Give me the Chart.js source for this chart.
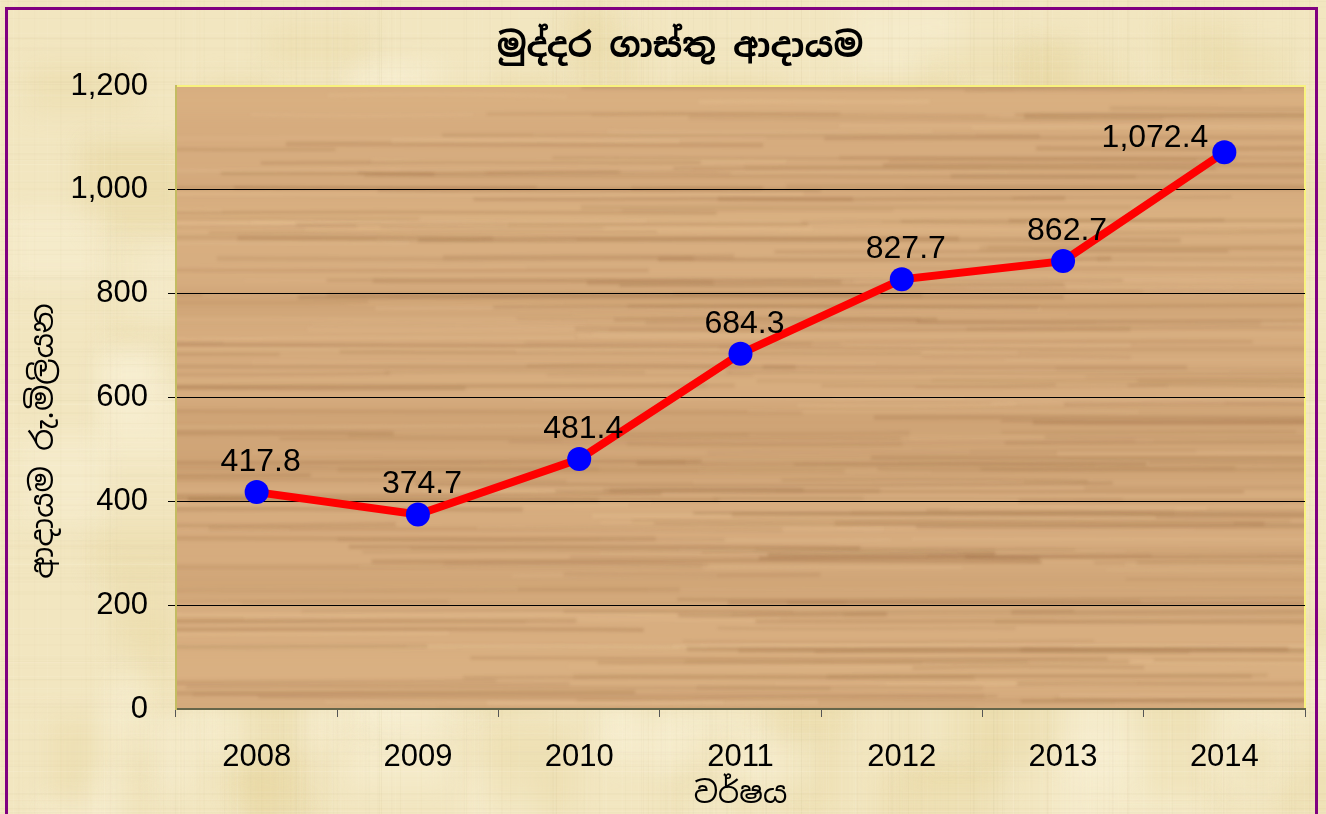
<!DOCTYPE html>
<html>
<head>
<meta charset="utf-8">
<script src="https://cdn.jsdelivr.net/npm/chart.js@4.4.1/dist/chart.umd.min.js"></script>
<style>
  html, body { margin: 0; padding: 0; background: #ffffff; }
  #wrap { position: relative; width: 1326px; height: 814px; }
</style>
</head>
<body>
<div id="wrap"><canvas id="chart" width="1326" height="814"></canvas></div>
<script>
const years = ['2008', '2009', '2010', '2011', '2012', '2013', '2014'];
const revenue = [417.8, 374.7, 481.4, 684.3, 827.7, 862.7, 1072.4];
const yTicks = [0, 200, 400, 600, 800, 1000, 1200];

const chartTitle = 'මුද්දර ගාස්තු ආදායම';
const yTitle = 'ආදායම රු.මිලියන';
const xTitle = 'වර්ෂය';

const numFont = '"Liberation Sans", Arial, sans-serif';
const sinFont = '"Noto Sans Sinhala", "Iskoola Pota", "Noto Sans", sans-serif';

// seeded random, only used for the background textures
function seeded(s) {
  return () => {
    s = (s * 16807) % 2147483647;
    return (s - 1) / 2147483646;
  };
}

function makeWood(w, h) {
  const c = document.createElement('canvas');
  c.width = w; c.height = h;
  const g = c.getContext('2d');
  const rnd = seeded(7);
  g.fillStyle = '#d6ac7e';
  g.fillRect(0, 0, w, h);
  // broad tone bands
  for (let y = 0; y < h; y++) {
    const band = Math.sin(y * 0.045 + 0.4) * 0.6 + Math.sin(y * 0.013 + 2.1) * 0.5 + Math.sin(y * 0.11) * 0.3;
    const a = Math.min(0.28, Math.abs(band) * 0.13);
    g.fillStyle = band > 0 ? `rgba(160,110,65,${a})` : `rgba(238,200,150,${a})`;
    g.fillRect(0, y, w, 1);
  }
  // soft grain streaks
  g.filter = 'blur(1.6px)';
  for (let i = 0; i < 420; i++) {
    const x = rnd() * w - 150;
    const y = rnd() * h;
    const len = 200 + rnd() * 600;
    const dark = rnd() > 0.35;
    g.strokeStyle = dark ? `rgba(140,92,50,${0.08 + rnd() * 0.14})` : `rgba(240,205,160,${0.08 + rnd() * 0.14})`;
    g.lineWidth = 2 + rnd() * 3;
    g.beginPath();
    g.moveTo(x, y);
    g.bezierCurveTo(x + len / 3, y + (rnd() - 0.5) * 4, x + 2 * len / 3, y + (rnd() - 0.5) * 4, x + len, y + (rnd() - 0.5) * 3);
    g.stroke();
  }
  g.filter = 'none';
  return c;
}

function makePapyrus(w, h) {
  const c = document.createElement('canvas');
  c.width = w; c.height = h;
  const g = c.getContext('2d');
  const rnd = seeded(31);
  g.fillStyle = '#f2e6c0';
  g.fillRect(0, 0, w, h);
  g.filter = 'blur(12px)';
  for (let i = 0; i < 160; i++) {
    g.fillStyle = rnd() > 0.5 ? 'rgba(232,216,160,0.35)' : 'rgba(250,242,218,0.4)';
    g.fillRect(rnd() * w, rnd() * h, 30 + rnd() * 90, 30 + rnd() * 90);
  }
  g.filter = 'none';
  for (let i = 0; i < 260; i++) {
    const x = rnd() * w;
    g.fillStyle = rnd() > 0.5 ? `rgba(255,250,230,${0.05 + rnd() * 0.08})` : `rgba(200,185,140,${0.03 + rnd() * 0.05})`;
    g.fillRect(x, 0, 1, h);
  }
  for (let i = 0; i < 220; i++) {
    const y = rnd() * h;
    g.fillStyle = rnd() > 0.5 ? `rgba(255,250,230,${0.05 + rnd() * 0.08})` : `rgba(200,185,140,${0.03 + rnd() * 0.05})`;
    g.fillRect(0, y, w, 1);
  }
  return c;
}

const woodTex = makeWood(1326, 814);
const papyrusTex = makePapyrus(1326, 814);

const backgroundPlugin = {
  id: 'backgrounds',
  beforeDraw(chart) {
    const { ctx, chartArea: a, height } = chart;
    ctx.save();
    ctx.drawImage(papyrusTex, 0, 0);
    ctx.strokeStyle = '#800080';
    ctx.lineWidth = 3;
    ctx.strokeRect(6.5, 8.5, 1310, height + 10);
    const w = a.right - a.left;
    const h = a.bottom - a.top;
    ctx.drawImage(woodTex, a.left, a.top, w, h, a.left, a.top, w, h);
    ctx.strokeStyle = '#f8f27e';
    ctx.lineWidth = 2;
    ctx.beginPath();
    ctx.moveTo(a.left, a.bottom);
    ctx.lineTo(a.left, a.top);
    ctx.lineTo(a.right, a.top);
    ctx.lineTo(a.right, a.bottom);
    ctx.stroke();
    ctx.restore();
  },
  afterDraw(chart) {
    const { ctx, chartArea: a } = chart;
    ctx.save();
    ctx.fillStyle = '#000000';
    ctx.textAlign = 'center';
    ctx.textBaseline = 'middle';
    ctx.font = `bold 34px ${sinFont}`;
    ctx.fillText(chartTitle, 680, 48);
    ctx.font = `30px ${sinFont}`;
    ctx.fillText(xTitle, (a.left + a.right) / 2, 795);
    ctx.translate(44, 441);
    ctx.rotate(-Math.PI / 2);
    ctx.font = `31px ${sinFont}`;
    ctx.fillText(yTitle, 0, 0);
    ctx.restore();
  },
};

const valueLabelPlugin = {
  id: 'valueLabels',
  afterDatasetsDraw(chart) {
    const { ctx } = chart;
    const meta = chart.getDatasetMeta(0);
    const data = chart.data.datasets[0].data;
    ctx.save();
    ctx.font = `32px ${numFont}`;
    ctx.fillStyle = '#000000';
    meta.data.forEach((pt, i) => {
      const text = data[i].toLocaleString('en-US', { minimumFractionDigits: 1, maximumFractionDigits: 1 });
      if (i === data.length - 1) {
        ctx.textAlign = 'right';
        ctx.textBaseline = 'middle';
        ctx.fillText(text, pt.x - 16, pt.y - 14);
      } else {
        ctx.textAlign = 'center';
        ctx.textBaseline = 'alphabetic';
        ctx.fillText(text, pt.x + 4, pt.y - 21);
      }
    });
    ctx.restore();
  },
};

new Chart(document.getElementById('chart'), {
  type: 'line',
  data: {
    labels: years,
    datasets: [
      {
        data: revenue,
        borderColor: '#ff0000',
        borderWidth: 8,
        pointBackgroundColor: '#0000ff',
        pointBorderColor: '#0000ff',
        pointRadius: 12,
        pointBorderWidth: 0,
        tension: 0,
      },
    ],
  },
  options: {
    responsive: false,
    animation: false,
    layout: { padding: { left: 8, right: 21, top: 86, bottom: 0 } },
    plugins: {
      legend: { display: false },
      tooltip: { enabled: false },
      title: { display: false },
    },
    scales: {
      x: {
        offset: true,
        grid: { display: true, drawOnChartArea: false, drawTicks: true, tickLength: 8, color: '#555555', offset: true },
        border: { display: true, color: '#66664a', width: 2 },
        ticks: { color: '#000000', font: { family: numFont, size: 31 }, padding: 22, maxRotation: 0 },
        afterFit(scale) { scale.height = 105; },
      },
      y: {
        min: 0,
        max: 1200,
        afterBuildTicks(scale) { scale.ticks = yTicks.map((v) => ({ value: v })); },
        grid: {
          drawTicks: true,
          tickLength: 8,
          lineWidth: 1,
          color: (c) => (c.tick && (c.tick.value === 0 || c.tick.value === 1200) ? 'rgba(0,0,0,0)' : '#000000'),
        },
        border: { display: true, color: '#c4bc62', width: 2 },
        ticks: {
          color: '#000000',
          font: { family: numFont, size: 31 },
          padding: 20,
          callback: (v) => v.toLocaleString('en-US'),
        },
        afterFit(scale) { scale.width = 168; },
      },
    },
  },
  plugins: [backgroundPlugin, valueLabelPlugin],
});
</script>
</body>
</html>
